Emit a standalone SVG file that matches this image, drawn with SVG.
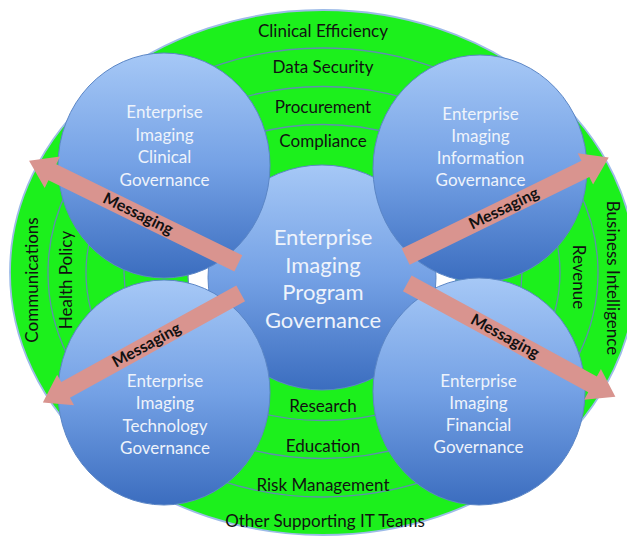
<svg xmlns="http://www.w3.org/2000/svg" width="627" height="539" viewBox="0 0 627 539">
<defs>
<linearGradient id="blue" x1="0" y1="0" x2="0" y2="1">
<stop offset="0" stop-color="#a6c8f6"/>
<stop offset="0.5" stop-color="#74a1e5"/>
<stop offset="1" stop-color="#3b6dbf"/>
</linearGradient>
<style>
.ring{fill:none;stroke:#5f8fae;stroke-width:1.3}
.band{font-family:Lato,"Liberation Sans",sans-serif;font-size:17px;fill:#111;text-anchor:middle}
.circ{fill:url(#blue);stroke:#5b86c6;stroke-width:1}
.ct{font-family:Lato,"Liberation Sans",sans-serif;font-size:17px;fill:#eef3fb;text-anchor:middle}
.big{font-size:22px}
.arrow{fill:#d9948f}
.msg{font-family:Lato,"Liberation Sans",sans-serif;font-size:16px;font-weight:bold;fill:#111;text-anchor:middle}
</style>
</defs>
<rect width="627" height="539" fill="#ffffff"/>
<g id="bands">
<ellipse cx="323" cy="272.5" rx="313" ry="262.5" fill="#1cf01c" stroke="#9dbbe8" stroke-width="1.8"/>
<ellipse class="ring" cx="323" cy="272.5" rx="275" ry="224.5"/>
<ellipse class="ring" cx="323" cy="272.5" rx="237" ry="186"/>
<ellipse class="ring" cx="323" cy="272.5" rx="199" ry="148"/>
<ellipse cx="322" cy="277" rx="134" ry="100" fill="#ffffff" stroke="#5f8fae" stroke-width="1.3"/>
<text class="band" x="323" y="37">Clinical Efficiency</text>
<text class="band" x="323" y="73">Data Security</text>
<text class="band" x="323" y="113">Procurement</text>
<text class="band" x="323" y="147">Compliance</text>
<text class="band" x="323" y="412">Research</text>
<text class="band" x="323" y="452">Education</text>
<text class="band" x="323" y="491">Risk Management</text>
<text class="band" x="325" y="527">Other Supporting IT Teams</text>
<text class="band" transform="translate(38,280) rotate(-90)" x="0" y="0">Communications</text>
<text class="band" transform="translate(72,280) rotate(-90)" x="0" y="0">Health Policy</text>
<text class="band" transform="translate(607,278) rotate(90)" x="0" y="0">Business Intelligence</text>
<text class="band" transform="translate(573,277) rotate(90)" x="0" y="0">Revenue</text>
</g>
<g id="program">
<ellipse class="circ" cx="322" cy="277.5" rx="114" ry="112.5"/>
<text class="ct big" x="323" y="245">Enterprise</text>
<text class="ct big" x="323" y="273">Imaging</text>
<text class="ct big" x="323" y="300">Program</text>
<text class="ct big" x="323" y="328">Governance</text>
</g>
<g id="clinical">
<ellipse class="circ" cx="164" cy="165.5" rx="106" ry="112.5"/>
<text class="ct" x="164.5" y="118">Enterprise</text>
<text class="ct" x="164.5" y="140.5">Imaging</text>
<text class="ct" x="164.5" y="163">Clinical</text>
<text class="ct" x="164.5" y="185.5">Governance</text>
</g>
<g id="information">
<ellipse class="circ" cx="480" cy="168.5" rx="107" ry="113.5"/>
<text class="ct" x="480.5" y="120">Enterprise</text>
<text class="ct" x="480.5" y="142">Imaging</text>
<text class="ct" x="480.5" y="164">Information</text>
<text class="ct" x="480.5" y="186">Governance</text>
</g>
<g id="technology">
<ellipse class="circ" cx="164" cy="392.5" rx="106" ry="112.5"/>
<text class="ct" x="165" y="387">Enterprise</text>
<text class="ct" x="165" y="409">Imaging</text>
<text class="ct" x="165" y="431.5">Technology</text>
<text class="ct" x="165" y="453.5">Governance</text>
</g>
<g id="financial">
<ellipse class="circ" cx="479" cy="391.5" rx="106" ry="113.5"/>
<text class="ct" x="478.5" y="387">Enterprise</text>
<text class="ct" x="478.5" y="409">Imaging</text>
<text class="ct" x="478.5" y="431">Financial</text>
<text class="ct" x="478.5" y="453">Governance</text>
</g>
<g id="connectors">
<path class="arrow" transform="translate(238.3,263.3) rotate(206.1)" d="M0,-9 H207 V-17.5 L233,0 L207,17.5 V9 H0 Z"/>
<path class="arrow" transform="translate(405.7,256.7) rotate(-26.05)" d="M0,-9 H200 V-17.5 L226,0 L200,17.5 V9 H0 Z"/>
<path class="arrow" transform="translate(240.7,293.3) rotate(151.1)" d="M0,-9 H200 V-17.5 L226,0 L200,17.5 V9 H0 Z"/>
<path class="arrow" transform="translate(407.3,283.3) rotate(28.6)" d="M0,-9 H211 V-17.5 L237,0 L211,17.5 V9 H0 Z"/>
<text class="msg" transform="translate(138,214.1) rotate(26.1)" x="0" y="5">Messaging</text>
<text class="msg" transform="translate(504,208.6) rotate(-26.05)" x="0" y="5">Messaging</text>
<text class="msg" transform="translate(146.7,345.2) rotate(-28.9)" x="0" y="5">Messaging</text>
<text class="msg" transform="translate(505,336.6) rotate(28.6)" x="0" y="5">Messaging</text>
</g>
</svg>
